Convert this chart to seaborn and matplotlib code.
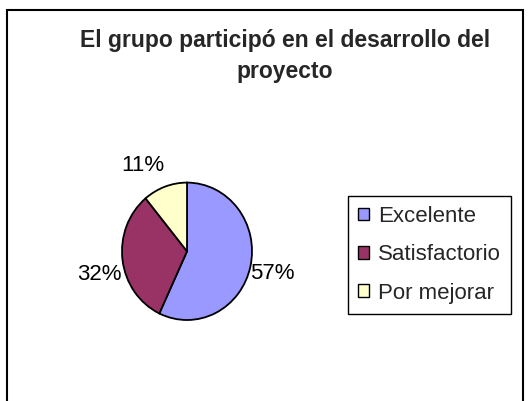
import matplotlib
matplotlib.use("Agg")
import matplotlib.pyplot as plt
import matplotlib.transforms as mtransforms
from matplotlib.patches import Rectangle
import seaborn as sns

# datos del gráfico
categorias = ["Excelente", "Satisfactorio", "Por mejorar"]
porcentajes = [57, 32, 11]
colores = ["#9999FF", "#993366", "#FFFFCC"]
titulo = "El grupo participó en el desarrollo del\nproyecto"

sns.set_theme(style="white")
plt.rcParams['font.family'] = ['Liberation Sans', 'DejaVu Sans']

W, H = 528, 401
fig = plt.figure(figsize=(W / 100, H / 100), dpi=100)
fig.patch.set_facecolor("white")

# marco exterior del gráfico (se corta por abajo)
fig.patches.append(Rectangle((7 / W, -0.1), (523 - 7) / W, 1 - 10 / H + 0.1,
                             transform=fig.transFigure, fill=False,
                             edgecolor="black", linewidth=1.5, zorder=0))

# título
fig.text(285 / W, 1 - 29 / H, titulo, ha="center", va="top",
         fontsize=16.5, fontweight="bold", linespacing=1.45,
         multialignment="center")

# ejes del pastel
cx, cy, rx, ry = 187, 251.3, 65, 68.7
ax = fig.add_axes([(cx - rx) / W, (H - cy - ry) / H, 2 * rx / W, 2 * ry / H])
wedges, texts, autotexts = ax.pie(
    porcentajes, colors=colores, startangle=90, counterclock=False,
    autopct="%1.0f%%", pctdistance=1.33,
    wedgeprops=dict(edgecolor="black", linewidth=1.3),
    textprops=dict(fontsize=16, color="black"))
ax.set_aspect("auto")
ax.set_xlim(-1, 1)
ax.set_ylim(-1, 1)
ax.axis("off")

# pequeño ajuste de las etiquetas al estilo de Excel (en píxeles)
ajustes = [(1, -2), (-2, -12), (-15, 0)]
for t, (dx, dy) in zip(autotexts, ajustes):
    t.set_transform(ax.transData + mtransforms.ScaledTranslation(
        dx / 100, dy / 100, fig.dpi_scale_trans))

# leyenda
leg = ax.legend(wedges, categorias, loc="upper left",
                bbox_to_anchor=(348 / W, 1 - 196 / H),
                bbox_transform=fig.transFigure, borderaxespad=0,
                fontsize=16, frameon=True, fancybox=False, framealpha=1,
                edgecolor="black", handlelength=0.5, handleheight=0.5,
                handletextpad=0.4, borderpad=0.45, labelspacing=0.78)
leg.get_frame().set_linewidth(1.0)
for h in leg.legend_handles:
    h.set_linewidth(1.0)

fig.savefig("out.png", dpi=100)
